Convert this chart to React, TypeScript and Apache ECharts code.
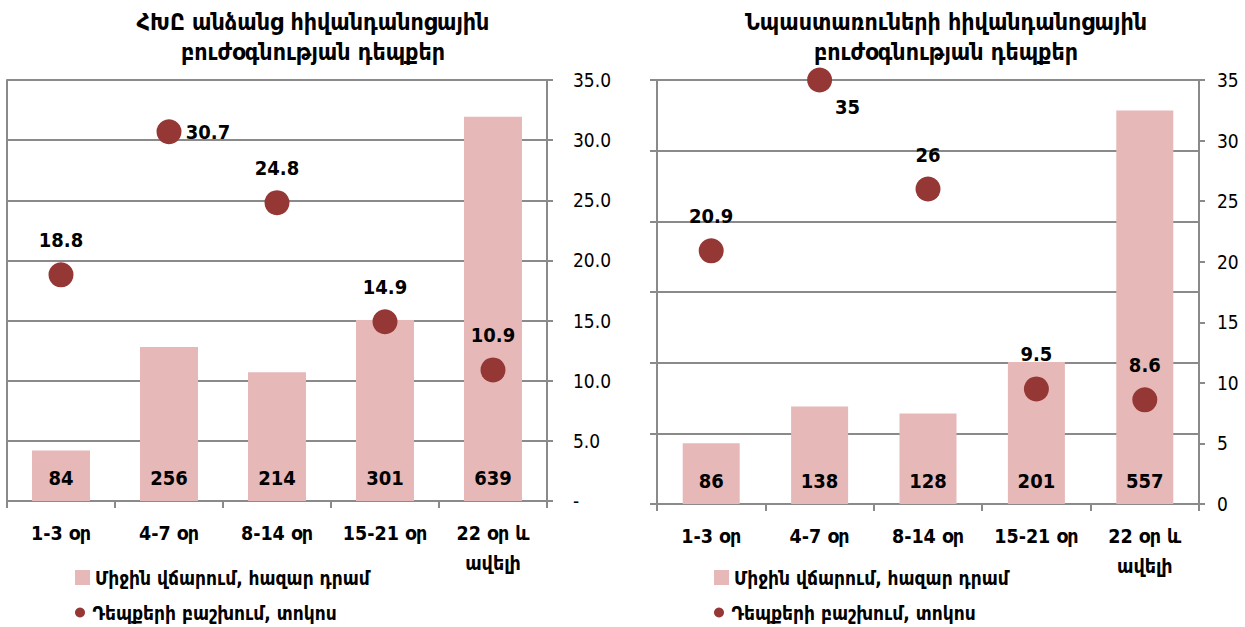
import React, { useEffect, useRef } from 'react';
import * as echarts from 'echarts';

const categories = ['1-3 օր', '4-7 օր', '8-14 օր', '15-21 օր', '22 օր և\nավելի'];
const leftTitle = 'ՀԽԸ անձանց հիվանդանոցային\nբուժօգնության դեպքեր';
const rightTitle = 'Նպաստառուների հիվանդանոցային\nբուժօգնության դեպքեր';
const barName = 'Միջին վճարում, հազար դրամ';
const pointName = 'Դեպքերի բաշխում, տոկոս';
const leftPayments = [84, 256, 214, 301, 639];
const leftShares = [18.8, 30.7, 24.8, 14.9, 10.9];
const rightPayments = [86, 138, 128, 201, 557];
const rightShares = [20.9, 35, 26, 9.5, 8.6];

const FONT = "'DejaVu Sans Condensed', 'DejaVu Sans', sans-serif";
const GRID_COLOR = '#8a8a8a';
const BAR_COLOR = '#e6b9b8';
const POINT_COLOR = '#953735';

export default function App() {
  const ref = useRef<HTMLDivElement>(null);

  useEffect(() => {
    if (!ref.current) return;
    const chart = echarts.init(ref.current, null, { renderer: 'svg' });

    const lineStyle = { color: GRID_COLOR, width: 2 };
    const xAxisBase = (gridIndex: number) => ({
      type: 'category',
      gridIndex,
      data: categories,
      axisLine: { show: true, lineStyle },
      axisTick: { show: true, length: 7, lineStyle },
      axisLabel: {
        interval: 0,
        color: '#000',
        fontFamily: FONT,
        fontWeight: 'bold',
        fontSize: 19.5,
        lineHeight: 30,
        margin: 17,
      },
      splitLine: { show: false },
    });

    const barLabel = {
      show: true,
      position: 'insideBottom',
      distance: 13,
      color: '#000',
      fontFamily: FONT,
      fontWeight: 'bold',
      fontSize: 20,
    };
    const pointLabel = {
      show: true,
      position: 'top',
      distance: 12,
      color: '#000',
      fontFamily: FONT,
      fontWeight: 'bold',
      fontSize: 20,
    };
    const legendText = { color: '#000', fontFamily: FONT, fontWeight: 'bold', fontSize: 19 };
    const titleStyle = {
      align: 'center',
      fill: '#000',
      fontFamily: FONT,
      fontWeight: 'bold',
      fontSize: 23,
      lineHeight: 30,
    };

    const option: any = {
      animation: false,
      backgroundColor: '#ffffff',
      textStyle: { fontFamily: FONT },
      graphic: [
        { type: 'text', x: 313, y: 7, style: { ...titleStyle, text: leftTitle } },
        { type: 'text', x: 946, y: 7, style: { ...titleStyle, text: rightTitle } },
      ],
      legend: [
        { data: [barName], left: 75, top: 568, padding: 0, itemWidth: 15, itemHeight: 15, icon: 'rect', selectedMode: false, textStyle: legendText },
        { data: [pointName], left: 75, top: 603, padding: 0, itemWidth: 15, itemHeight: 10, icon: 'circle', selectedMode: false, textStyle: legendText },
        { data: [barName], left: 714, top: 568, padding: 0, itemWidth: 15, itemHeight: 15, icon: 'rect', selectedMode: false, textStyle: legendText },
        { data: [pointName], left: 714, top: 603, padding: 0, itemWidth: 15, itemHeight: 10, icon: 'circle', selectedMode: false, textStyle: legendText },
      ],
      grid: [
        { left: 7, top: 80, width: 540, height: 421 },
        { left: 657, top: 80, width: 542, height: 424 },
      ],
      xAxis: [xAxisBase(0), xAxisBase(1)],
      yAxis: [
        {
          type: 'value', gridIndex: 0, position: 'left', min: 0, max: 700, interval: 100,
          axisLine: { show: true, lineStyle }, axisTick: { show: false }, axisLabel: { show: false },
          splitLine: { show: true, lineStyle },
        },
        {
          type: 'value', gridIndex: 0, position: 'right', min: 0, max: 35, interval: 5,
          axisLine: { show: true, lineStyle }, axisTick: { show: true, length: 6, lineStyle },
          splitLine: { show: false },
          axisLabel: {
            margin: 26, color: '#000', fontFamily: FONT, fontSize: 19,
            formatter: (v: number) => (v === 0 ? '-' : v.toFixed(1)),
          },
        },
        {
          type: 'value', gridIndex: 1, position: 'left', min: 0, max: 600, interval: 100,
          axisLine: { show: true, lineStyle }, axisTick: { show: true, length: 7, lineStyle }, axisLabel: { show: false },
          splitLine: { show: true, lineStyle },
        },
        {
          type: 'value', gridIndex: 1, position: 'right', min: 0, max: 35, interval: 5,
          axisLine: { show: true, lineStyle }, axisTick: { show: true, length: 6, lineStyle },
          splitLine: { show: false },
          axisLabel: { margin: 18, color: '#000', fontFamily: FONT, fontSize: 19 },
        },
      ],
      series: [
        {
          name: barName, type: 'bar', xAxisIndex: 0, yAxisIndex: 0, barWidth: 58,
          itemStyle: { color: BAR_COLOR }, label: barLabel, data: leftPayments,
        },
        {
          name: pointName, type: 'scatter', xAxisIndex: 0, yAxisIndex: 1, symbolSize: 25, clip: false,
          itemStyle: { color: POINT_COLOR, opacity: 1 }, label: pointLabel,
          data: leftShares.map((v, i) =>
            i === 1 ? { value: v, label: { position: 'inside', offset: [39, 0] } } : v
          ),
        },
        {
          name: barName, type: 'bar', xAxisIndex: 1, yAxisIndex: 2, barWidth: 57,
          itemStyle: { color: BAR_COLOR }, label: barLabel, data: rightPayments,
        },
        {
          name: pointName, type: 'scatter', xAxisIndex: 1, yAxisIndex: 3, symbolSize: 25, clip: false,
          itemStyle: { color: POINT_COLOR, opacity: 1 }, label: pointLabel,
          data: rightShares.map((v, i) =>
            i === 1 ? { value: v, label: { position: 'inside', offset: [28, 27] } } : v
          ),
        },
      ],
    };

    chart.setOption(option);
    return () => chart.dispose();
  }, []);

  return (
    <div
      ref={ref}
      style={{ position: 'fixed', left: 0, top: 0, width: 1245, height: 627, background: '#fff' }}
    />
  );
}
